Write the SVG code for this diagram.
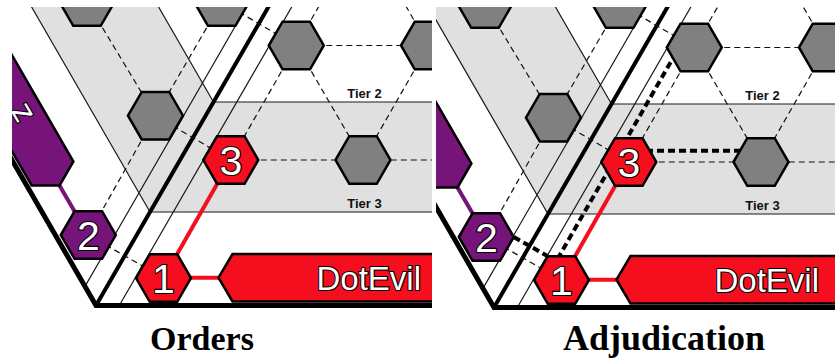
<svg xmlns="http://www.w3.org/2000/svg" width="835" height="358" viewBox="0 0 835 358">
<style>
.bg{fill:#fff}
.band{fill:#e0e0e0}
.thin{stroke:#1a1a1a;stroke-width:1.2;fill:none}
.seam{stroke:#000;stroke-width:4;fill:none}
.border{stroke:#000;stroke-width:5;fill:none;stroke-linejoin:miter}
.grid{stroke:#111;stroke-width:1.2;stroke-dasharray:6 4;fill:none}
.adj{stroke:#000;stroke-width:4;stroke-dasharray:7 4;fill:none}
.ordr{stroke:#f50f1e;stroke-width:4;fill:none}
.ordp{stroke:#76147a;stroke-width:4;fill:none}
.hex{stroke:#000;stroke-width:2.5;stroke-linejoin:miter}
.gray{fill:#808080}
.red{fill:#f50f1e}
.pur{fill:#76147a}
.lab{stroke:#000;stroke-width:2.5;stroke-linejoin:miter}
.num{font-family:"Liberation Sans",Arial,sans-serif;font-size:41px;fill:#fff;stroke:#000;stroke-width:2.2;paint-order:stroke fill;text-anchor:middle}
.lbl{font-family:"Liberation Sans",Arial,sans-serif;font-size:33px;fill:#fff;stroke:#000;stroke-width:2.2;paint-order:stroke fill}
.tier{font-family:"Liberation Sans",Arial,sans-serif;font-weight:bold;font-size:13px;fill:#111;text-anchor:middle}
.cap{font-family:"Liberation Serif","Times New Roman",serif;font-weight:bold;font-size:34px;fill:#000}
</style>
<defs>
<polygon id="hex" points="-27.5,0 -13.75,-23.8 13.75,-23.8 27.5,0 13.75,23.8 -13.75,23.8"/>
<clipPath id="clipL"><rect x="12" y="7" width="420" height="308"/></clipPath>
<clipPath id="clipR"><rect x="436" y="7" width="399" height="308"/></clipPath>
</defs>
<rect class="bg" x="0" y="0" width="835" height="358"/>

<!-- ===== Orders panel ===== -->
<g id="orders" clip-path="url(#clipL)">
<g id="o-board">
<polygon class="band" points="24.7,-5 151.7,-5 213.5,102 845,102 845,212 150,212"/>
<path class="thin" d="M24.7,-5 L150,212 M151.7,-5 L213.5,102 M213.5,102 H845 M150,212 H845 M85,286.4 L253.3,-5 M119.3,305.5 L298.6,-5"/>
<path class="seam" d="M96,305.5 L275.3,-5"/>
<polyline class="border" points="-10,121.9 96,305.5 845,305.5"/>
</g>
<g id="o-connectors">
<path class="grid" d="M296.3,45.5 L428.5,45.5 M296.3,45.5 L230.8,160 M296.3,45.5 L363,160 M428.5,45.5 L363,160 M230.8,160 L500,160 M296.3,45.5 L330,-13 M428.5,45.5 L395,-13 M87,2 L155.5,115.7 M221.7,2 L155.5,115.7 M155.5,115.7 L88.3,235 M155.5,115.7 L230.8,160 M88.3,235 L163.5,278 M221.7,2 L296.3,45.5"/>
<path class="ordr" d="M230.8,160 L163.5,278 M163.5,277.8 L225,277.8"/>
<path class="ordp" d="M88.3,235 L59.5,185.5"/>
</g>
<g id="o-label-dotevil">
<polygon class="lab red" points="218.5,277.7 232.5,254 850,254 850,301.5 232.5,301.5"/>
<text class="lbl" x="421" y="290" text-anchor="end">DotEvil</text>
</g>
<g id="o-label-purple">
<polygon class="lab pur" points="59.5,185.5 73.4,161.5 -76.6,-98.3 -118.3,-74.3 31.7,185.5"/>
<text class="lbl" transform="translate(19,114.5) rotate(240)" x="0" y="12" text-anchor="middle">z</text>
</g>
<g id="o-hex-tl" transform="translate(87,2)"><use href="#hex" class="hex gray"/></g>
<g id="o-hex-tr" transform="translate(221.7,2)"><use href="#hex" class="hex gray"/></g>
<g id="o-hex-lg" transform="translate(155.5,115.7)"><use href="#hex" class="hex gray"/></g>
<g id="o-hex-up" transform="translate(296.3,45.5)"><use href="#hex" class="hex gray"/></g>
<g id="o-hex-ur" transform="translate(428.5,45.5)"><use href="#hex" class="hex gray"/></g>
<g id="o-hex-g" transform="translate(363,160)"><use href="#hex" class="hex gray"/></g>
<g id="o-node2" transform="translate(88.3,235)"><use href="#hex" class="hex pur"/><text class="num" x="0" y="15">2</text></g>
<g id="o-node3" transform="translate(230.8,160)"><use href="#hex" class="hex red"/><text class="num" x="0" y="15">3</text></g>
<g id="o-node1" transform="translate(163.5,278)"><use href="#hex" class="hex red"/><text class="num" x="0" y="15">1</text></g>
<text class="tier" x="364.5" y="98">Tier 2</text>
<text class="tier" x="364.5" y="208">Tier 3</text>
</g>

<!-- ===== Adjudication panel ===== -->
<g id="adjudication" clip-path="url(#clipR)">
<g transform="translate(398,2)">
<g id="a-board">
<polygon class="band" points="24.7,-5 151.7,-5 213.5,102 845,102 845,212 150,212"/>
<path class="thin" d="M24.7,-5 L150,212 M151.7,-5 L213.5,102 M213.5,102 H845 M150,212 H845 M85,286.4 L253.3,-5 M119.3,305.5 L298.6,-5"/>
<path class="seam" d="M96,305.5 L275.3,-5"/>
<polyline class="border" points="-10,121.9 96,305.5 845,305.5"/>
</g>
<g id="a-connectors">
<path class="grid" d="M296.3,45.5 L428.5,45.5 M296.3,45.5 L230.8,160 M296.3,45.5 L363,160 M428.5,45.5 L363,160 M230.8,160 L500,160 M296.3,45.5 L330,-13 M428.5,45.5 L395,-13 M87,2 L155.5,115.7 M221.7,2 L155.5,115.7 M155.5,115.7 L88.3,235 M155.5,115.7 L230.8,160 M88.3,235 L163.5,278 M221.7,2 L296.3,45.5"/>
<path class="adj" d="M159.5,257 L278.5,50"/>
<path class="adj" d="M248,148.7 L346,148.7"/>
<path class="adj" d="M115.8,235 L149.75,254.2"/>
<path class="ordr" d="M230.8,160 L163.5,278 M163.5,277.8 L225,277.8"/>
<path class="ordp" d="M88.3,235 L59.5,185.5"/>
</g>
<g id="a-label-dotevil">
<polygon class="lab red" points="218.5,277.7 232.5,254 850,254 850,301.5 232.5,301.5"/>
<text class="lbl" x="421" y="290" text-anchor="end">DotEvil</text>
</g>
<g id="a-label-purple">
<polygon class="lab pur" points="59.5,185.5 73.4,161.5 -76.6,-98.3 -118.3,-74.3 31.7,185.5"/>
</g>
<g id="a-hex-tl" transform="translate(87,2)"><use href="#hex" class="hex gray"/></g>
<g id="a-hex-tr" transform="translate(221.7,2)"><use href="#hex" class="hex gray"/></g>
<g id="a-hex-lg" transform="translate(155.5,115.7)"><use href="#hex" class="hex gray"/></g>
<g id="a-hex-up" transform="translate(296.3,45.5)"><use href="#hex" class="hex gray"/></g>
<g id="a-hex-ur" transform="translate(428.5,45.5)"><use href="#hex" class="hex gray"/></g>
<g id="a-hex-g" transform="translate(363,160)"><use href="#hex" class="hex gray"/></g>
<g id="a-node2" transform="translate(88.3,235)"><use href="#hex" class="hex pur"/><text class="num" x="0" y="15">2</text></g>
<g id="a-node3" transform="translate(230.8,160)"><use href="#hex" class="hex red"/><text class="num" x="0" y="15">3</text></g>
<g id="a-node1" transform="translate(163.5,278)"><use href="#hex" class="hex red"/><text class="num" x="0" y="15">1</text></g>
<text class="tier" x="364.5" y="98">Tier 2</text>
<text class="tier" x="364.5" y="208">Tier 3</text>
</g>
</g>

<text class="cap" x="150" y="350">Orders</text>
<text class="cap" x="563" y="350" style="font-size:36px">Adjudication</text>
</svg>
